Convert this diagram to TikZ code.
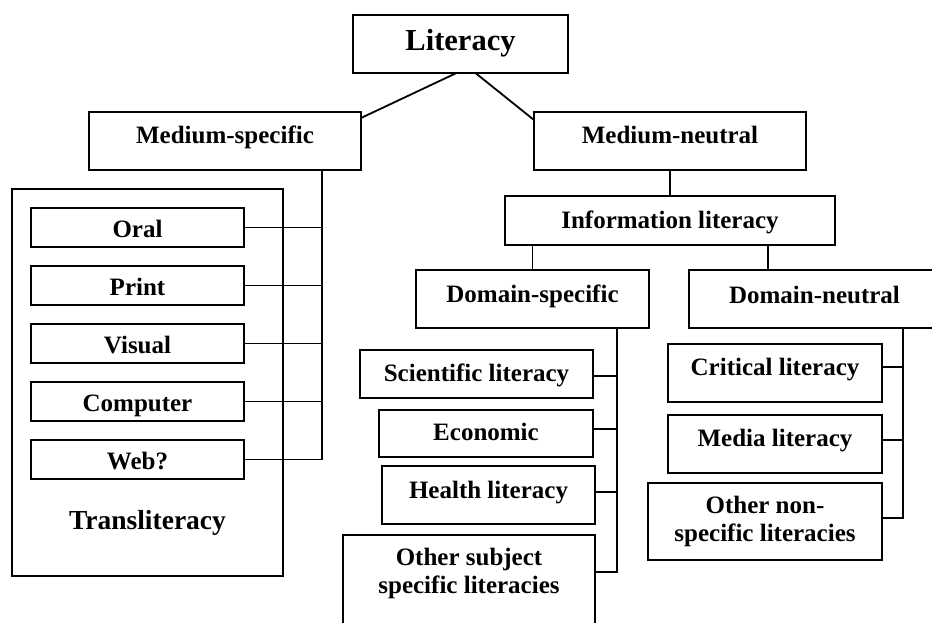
\documentclass[tikz,border=0pt]{standalone}
\usepackage{fontspec}
\setmainfont{Liberation Serif}
\usetikzlibrary{positioning}
\tikzstyle{box} = [rectangle,
                    draw=black,
                    line width=2pt,
                    inner xsep=0pt,
                    inner ysep=0pt,
                    outer sep=0pt,
                    text centered,
                    align=center,
                    font=\fontsize{25}{28}\selectfont\bfseries]
\tikzstyle{medium} = [box,
                    minimum width=213pt,
                    text height=29pt,
                    text depth=10pt]
\tikzstyle{link} = [draw=black, line width=1.8pt]

\begin{document}
\begin{tikzpicture}[x=1pt, y=-1pt, node distance=19pt]
\useasboundingbox (0,0) rectangle (932,622);
\clip (0,0) rectangle (932,622);
% top levels
\node (lit) [box, anchor=north west, minimum width=215pt, text height=35.7pt, text depth=22.3pt,
  font=\fontsize{30.5}{34}\selectfont\bfseries] at (353,15) {Literacy};
\node (ms) [box, anchor=north west, minimum width=272pt, text height=31pt, text depth=27pt] at (89,112) {Medium-specific};
\node (mn) [box, minimum width=272pt, text height=31pt, text depth=27pt, right=173pt of ms] {Medium-neutral};
\node (info) [box, minimum width=330pt, text height=32pt, text depth=17pt, below=26pt of mn] {Information literacy};
\node (ds) [box, anchor=north west, minimum width=233pt, text height=32pt, text depth=26pt] at (416,270) {Domain-specific};
\node (dn) [box, minimum width=251pt, text height=33pt, text depth=25pt, right=40pt of ds] {Domain-neutral};
% medium-specific
\node (trans) [box, anchor=north west, minimum width=271pt, text height=340pt, text depth=47pt,
  font=\fontsize{27.5}{32}\selectfont\bfseries] at (12,189) {Transliteracy};
\node (oral) [medium, anchor=north west] at (31,208) {Oral};
\node (print) [medium, below= of oral] {Print};
\node (visual) [medium, below= of print] {Visual};
\node (computer) [medium, below= of visual] {Computer};
\node (web) [medium, below= of computer] {Web?};
% domain-specific
\node (sci) [box, anchor=north east, minimum width=233pt, text height=31pt, text depth=17pt] at (593,350) {Scientific literacy};
\node (eco) [box, minimum width=214pt, text height=30pt, text depth=17pt, below=12pt of sci.south east, anchor=north east] {Economic};
\node (health) [box, minimum width=213pt, text height=32pt, text depth=26pt, below=9pt of eco.south east, anchor=north east, xshift=2pt] {Health literacy};
\node (osub) [box, minimum width=252pt, text height=58pt, text depth=37pt, below=11pt of health.south east, anchor=north east] {Other subject\\specific literacies};
% domain-neutral
\node (crit) [box, anchor=north west, minimum width=214pt, text height=31pt, text depth=27pt] at (668,344) {Critical literacy};
\node (media) [box, minimum width=214pt, text height=31pt, text depth=27pt, below=13pt of crit] {Media literacy};
\node (othnon) [box, minimum width=234pt, text height=58pt, text depth=19pt, below=10pt of media.south east, anchor=north east] {Other non-\\specific literacies};

\draw[link] ([xshift=-4pt]lit.south) -- ([yshift=-6pt]ms.north east);
\draw[link] ([xshift=15pt]lit.south) -- ([yshift=-8pt]mn.north west);
\draw[link] ([xshift=-39pt]ms.south east) coordinate (msbus) |- (web.east);
\foreach \m in {oral,print,visual,computer}
  \draw[link] (\m.east) -- (\m.east -| msbus);
\draw[link] (mn.south) -- (mn.south |- info.north);
\draw[link] (ds.north) -- (ds.north |- info.south);
\draw[link] ([xshift=98pt]info.south) -- ([xshift=98pt]info.south |- dn.north);
\draw[link] ([xshift=-32pt]ds.south east) coordinate (dsbus) |- ([yshift=-37pt]osub.north east);
\foreach \b/\d in {sci/26,eco/19,health/26}
  \draw[link] ([yshift=-\d pt]\b.north east) -- ([yshift=-\d pt]\b.north east -| dsbus);
\draw[link] ([xshift=214pt]dn.south west) coordinate (dnbus) |- ([yshift=-35pt]othnon.north east);
\foreach \b/\d in {crit/23,media/25}
  \draw[link] ([yshift=-\d pt]\b.north east) -- ([yshift=-\d pt]\b.north east -| dnbus);
\end{tikzpicture}
\end{document}
